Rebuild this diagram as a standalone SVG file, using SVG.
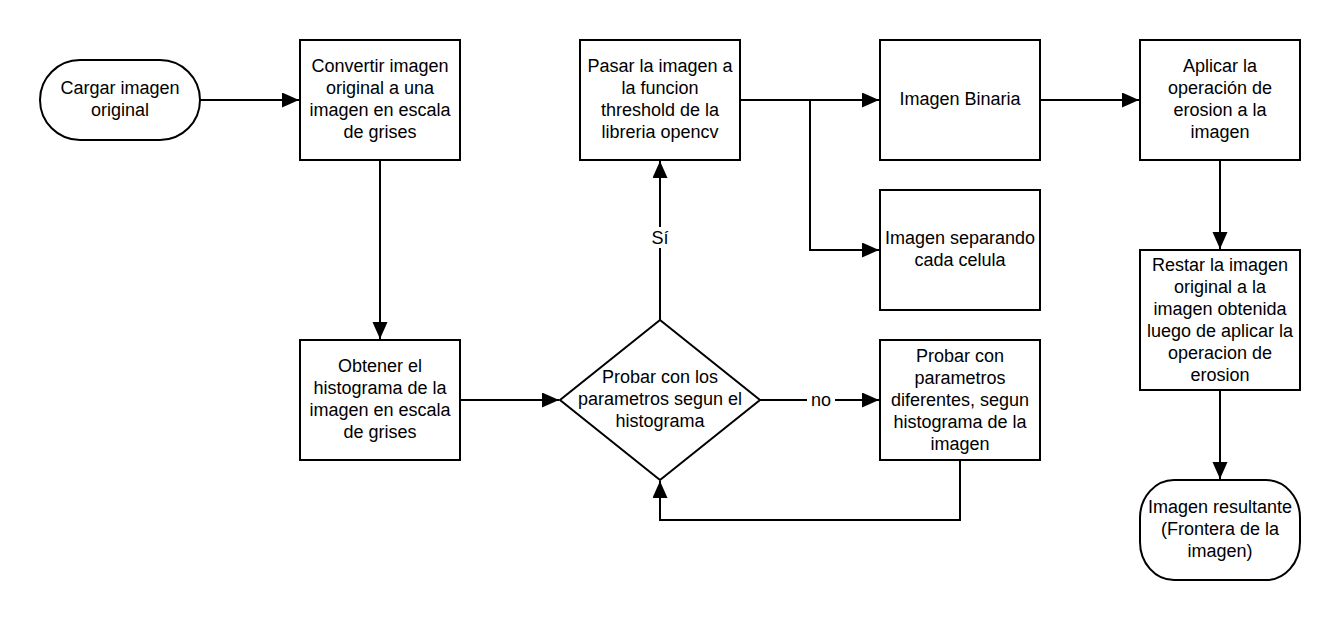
<svg xmlns="http://www.w3.org/2000/svg" width="1340" height="620" viewBox="0 0 1340 620">
<style>
.n{fill:#fff;stroke:#000;stroke-width:2}
.t{font-family:"Liberation Sans",Arial,sans-serif;font-size:18px;fill:#000;text-anchor:middle}
.c{fill:none;stroke:#000;stroke-width:2}
.lb{fill:#fff;stroke:none}
</style>
<defs>
<marker id="a" markerUnits="userSpaceOnUse" markerWidth="18" markerHeight="16" refX="17" refY="7.5" orient="auto">
<path d="M0,0 L17,7.5 L0,15 z" fill="#000"/>
</marker>
</defs>
<rect width="1340" height="620" fill="#fff"/>
<g id="connectors">
<path class="c" d="M200,100 H299" marker-end="url(#a)"/>
<path class="c" d="M380,160 V339" marker-end="url(#a)"/>
<path class="c" d="M460,400 H559" marker-end="url(#a)"/>
<path class="c" d="M660,320 V161" marker-end="url(#a)"/>
<rect class="lb" x="645" y="227" width="30" height="21"/>
<text class="t" x="660" y="244">Sí</text>
<path class="c" d="M740,100 H879" marker-end="url(#a)"/>
<path class="c" d="M810,100 V250 H879" marker-end="url(#a)"/>
<path class="c" d="M760,400 H879" marker-end="url(#a)"/>
<rect class="lb" x="807" y="390" width="28" height="20"/>
<text class="t" x="821" y="406">no</text>
<path class="c" d="M960,460 V520 H660 V481" marker-end="url(#a)"/>
<path class="c" d="M1040,100 H1139" marker-end="url(#a)"/>
<path class="c" d="M1220,160 V249" marker-end="url(#a)"/>
<path class="c" d="M1220,390 V479" marker-end="url(#a)"/>
</g>
<g id="start">
<rect class="n" x="40" y="60" width="160" height="80" rx="40" ry="40"/>
<text class="t" x="120" y="94">Cargar imagen</text>
<text class="t" x="120" y="116">original</text>
</g>
<g id="convertir">
<rect class="n" x="300" y="40" width="160" height="120"/>
<text class="t" x="380" y="72">Convertir imagen</text>
<text class="t" x="380" y="94">original a una</text>
<text class="t" x="380" y="116">imagen en escala</text>
<text class="t" x="380" y="138">de grises</text>
</g>
<g id="obtener">
<rect class="n" x="300" y="340" width="160" height="120"/>
<text class="t" x="380" y="372">Obtener el</text>
<text class="t" x="380" y="394">histograma de la</text>
<text class="t" x="380" y="416">imagen en escala</text>
<text class="t" x="380" y="438">de grises</text>
</g>
<g id="decision">
<path class="n" d="M660,320 L760,400 L660,480 L560,400 Z"/>
<text class="t" x="660" y="383">Probar con los</text>
<text class="t" x="660" y="405">parametros segun el</text>
<text class="t" x="660" y="427">histograma</text>
</g>
<g id="pasar">
<rect class="n" x="580" y="40" width="160" height="120"/>
<text class="t" x="660" y="72">Pasar la imagen a</text>
<text class="t" x="660" y="94">la funcion</text>
<text class="t" x="660" y="116">threshold de la</text>
<text class="t" x="660" y="138">libreria opencv</text>
</g>
<g id="binaria">
<rect class="n" x="880" y="40" width="160" height="120"/>
<text class="t" x="960" y="105">Imagen Binaria</text>
</g>
<g id="separando">
<rect class="n" x="880" y="190" width="160" height="120"/>
<text class="t" x="960" y="244">Imagen separando</text>
<text class="t" x="960" y="266">cada celula</text>
</g>
<g id="diferentes">
<rect class="n" x="880" y="340" width="160" height="120"/>
<text class="t" x="960" y="362">Probar con</text>
<text class="t" x="960" y="384">parametros</text>
<text class="t" x="960" y="406">diferentes, segun</text>
<text class="t" x="960" y="428">histograma de la</text>
<text class="t" x="960" y="450">imagen</text>
</g>
<g id="aplicar">
<rect class="n" x="1140" y="40" width="160" height="120"/>
<text class="t" x="1220" y="72">Aplicar la</text>
<text class="t" x="1220" y="94">operación de</text>
<text class="t" x="1220" y="116">erosion a la</text>
<text class="t" x="1220" y="138">imagen</text>
</g>
<g id="restar">
<rect class="n" x="1140" y="250" width="160" height="140"/>
<text class="t" x="1220" y="271">Restar la imagen</text>
<text class="t" x="1220" y="293">original a la</text>
<text class="t" x="1220" y="315">imagen obtenida</text>
<text class="t" x="1220" y="337">luego de aplicar la</text>
<text class="t" x="1220" y="359">operacion de</text>
<text class="t" x="1220" y="381">erosion</text>
</g>
<g id="end">
<rect class="n" x="1140" y="480" width="160" height="100" rx="34" ry="38"/>
<text class="t" x="1220" y="513">Imagen resultante</text>
<text class="t" x="1220" y="535">(Frontera de la</text>
<text class="t" x="1220" y="557">imagen)</text>
</g>
</svg>
